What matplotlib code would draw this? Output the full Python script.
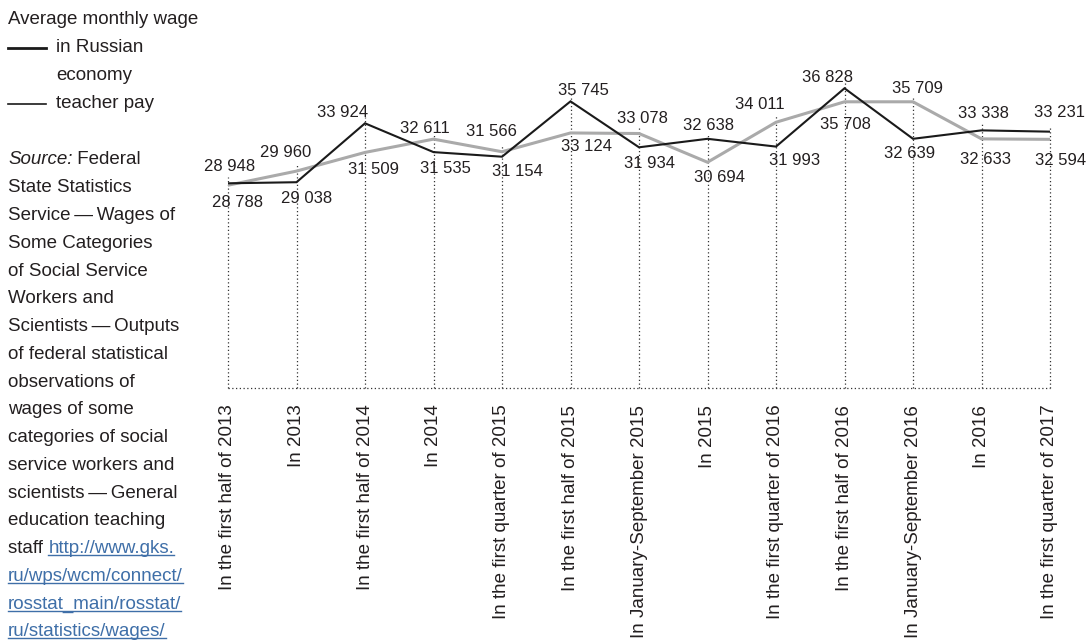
import matplotlib
matplotlib.use('Agg')
import matplotlib.pyplot as plt
from matplotlib.lines import Line2D
from matplotlib.transforms import IdentityTransform

W, H = 1088, 641
plt.rcParams['font.family'] = ['Liberation Sans', 'DejaVu Sans']
TXT = '#231f20'

periods = ['In the first half of 2013', 'In 2013', 'In the first half of 2014',
           'In 2014', 'In the first quarter of 2015', 'In the first half of 2015',
           'In January-September 2015', 'In 2015', 'In the first quarter of 2016',
           'In the first half of 2016', 'In January-September 2016', 'In 2016',
           'In the first quarter of 2017']
economy = [28948, 29038, 33924, 31535, 31154, 35745, 31934, 32638, 31993, 36828, 32639, 33338, 33231]
teachers = [28788, 29960, 31509, 32611, 31566, 33124, 33078, 30694, 34011, 35708, 35709, 32633, 32594]

# label offsets in pixels (dx, dy), placed by hand like the original
eco_off = [(2, 17), (10, -16), (-22, 11), (12, -16), (15, -15), (13, 11), (11, -16),
           (1, 13), (19, -14), (-17, 11), (-3, -15), (2, 17), (9, 19)]
tea_off = [(9, -17), (-11, 19), (9, -17), (-9, 11), (-11, 20), (16, -14), (3, 15),
           (12, -15), (-16, 18), (1, -23), (5, 13), (4, -21), (11, -21)]

fig = plt.figure(figsize=(W / 100, H / 100), dpi=100)
ax = fig.add_axes([228 / W, 1 - 388 / H, 822 / W, 388 / H])
xs = list(range(len(periods)))
ybot, ytop = 11969, 44152
ax.set_xlim(0, len(periods) - 1)
ax.set_ylim(ybot, ytop)

dots = (0, (1, 2))
tops = [max(a, b) + 500 for a, b in zip(economy, teachers)]
ax.vlines(xs, ybot, tops, colors='#333333', linestyles=dots, lw=0.9, clip_on=False, zorder=1)
ax.hlines(ybot, 0, len(periods) - 1, colors='#333333', linestyles=dots, lw=0.9, clip_on=False, zorder=1)

ax.plot(xs, teachers, color='#aaaaaa', lw=2.2, zorder=3, solid_joinstyle='miter')
ax.plot(xs, economy, color='#1a1a1a', lw=1.5, zorder=4, solid_joinstyle='miter')

def fmt(v):
    return f'{v:,}'.replace(',', ' ')

for i in xs:
    for vals, offs in ((economy, eco_off), (teachers, tea_off)):
        ax.annotate(fmt(vals[i]), (i, vals[i]), xytext=offs[i], textcoords='offset pixels',
                    ha='center', va='center', fontsize=12, color=TXT, zorder=5,
                    annotation_clip=False)

ax.set_xticks(xs)
ax.set_xticklabels(periods, rotation=90, fontsize=13.5, color=TXT)
ax.tick_params(axis='x', length=0, pad=12)
ax.set_yticks([])
for s in ax.spines.values():
    s.set_visible(False)

def px(x, y):
    return x / W, 1 - y / H

# legend block
fig.text(*px(8, 20), 'Average monthly wage', fontsize=13.5, color=TXT, va='center')
fig.add_artist(Line2D([8 / W, 46 / W], [1 - 48 / H] * 2, color='#1a1a1a', lw=2))
fig.text(*px(56, 48), 'in Russian', fontsize=13.5, color=TXT, va='center')
fig.text(*px(56, 76), 'economy', fontsize=13.5, color=TXT, va='center')
fig.add_artist(Line2D([8 / W, 46 / W], [1 - 104 / H] * 2, color='#1a1a1a', lw=1.2))
fig.text(*px(56, 104), 'teacher pay', fontsize=13.5, color=TXT, va='center')

# source block
src = ['', 'State Statistics', 'Service\u2009—\u2009Wages of', 'Some Categories',
       'of Social Service', 'Workers and', 'Scientists\u2009—\u2009Outputs',
       'of federal statistical', 'observations of', 'wages of some',
       'categories of social', 'service workers and', 'scientists\u2009—\u2009General',
       'education teaching', '']
url = ['ru/wps/wcm/connect/', 'rosstat_main/rosstat/', 'ru/statistics/wages/']
LINK = '#3f6fa8'
y0, step = 160, 27.76

t = fig.text(*px(8, y0), 'Source:', fontsize=13.5, color=TXT, va='center', style='italic')
ax.annotate(' Federal', xy=(1, 0.5), xycoords=t, va='center', ha='left', fontsize=13.5, color=TXT)
for k, line in enumerate(src):
    if line:
        fig.text(*px(8, y0 + k * step), line, fontsize=13.5, color=TXT, va='center')

k = len(src) - 1
t = fig.text(*px(8, y0 + k * step), 'staff ', fontsize=13.5, color=TXT, va='center')
links = [ax.annotate('http://www.gks.', xy=(1, 0.5), xycoords=t, va='center', ha='left',
                     fontsize=13.5, color=LINK)]
for j, line in enumerate(url):
    links.append(fig.text(*px(8, y0 + (k + 1 + j) * step), line, fontsize=13.5,
                          color=LINK, va='center'))

fig.canvas.draw()
r = fig.canvas.get_renderer()
for lt in links:
    bb = lt.get_window_extent(r)
    fig.add_artist(Line2D([bb.x0, bb.x1], [bb.y0 + 2, bb.y0 + 2], color=LINK, lw=1,
                          transform=IdentityTransform()))

fig.savefig('out.png', dpi=100)
